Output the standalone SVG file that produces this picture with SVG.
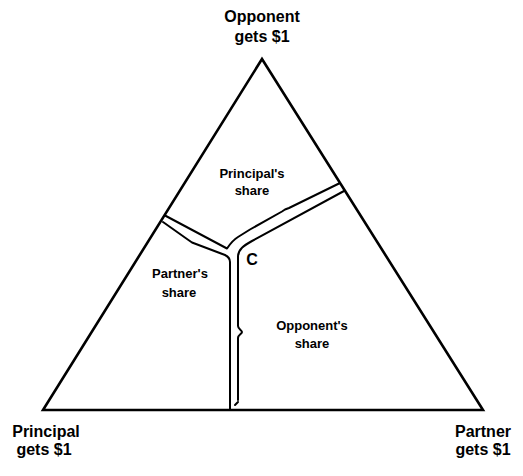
<svg xmlns="http://www.w3.org/2000/svg" width="523" height="476" viewBox="0 0 523 476">
<style>
.lbl{font-family:"Liberation Sans",Arial,Helvetica,sans-serif;font-weight:bold;fill:#000;text-anchor:middle}
.big{font-size:16px}
.mid{font-size:13px}
.edge{fill:none;stroke:#000;stroke-width:2.6;stroke-linejoin:miter}
.band{fill:none;stroke:#000;stroke-width:2;stroke-linecap:round;stroke-linejoin:round}
</style>
<rect width="523" height="476" fill="#fff"/>
<g id="triangle">
<polygon class="edge" points="262,59 43,410 483,410"/>
</g>
<g id="connectors">
<path class="band" d="M165,215.5 L227,248.5 C230,244 233,240 238,237 L250,229.5 L282,211.5 L285,209.5 L289,208 L340,183"/>
<path class="band" d="M163,222 L187,239 L192,242.5 L225,255 C228,256.5 230,258 230,262 L230,409"/>
<path class="band" d="M344,191 L252,241 C244,245.5 238,249 238,257 L238,326 C238,329 242,330 242,332 C242,334 238,335 238,338 L238,400"/>
<path class="band" d="M238,402 L235,405"/>
</g>
<g id="opponent-vertex">
<text class="lbl big" x="262" y="22">Opponent</text>
<text class="lbl big" x="262" y="42">gets $1</text>
</g>
<g id="principal-vertex">
<text class="lbl big" x="46" y="437">Principal</text>
<text class="lbl big" x="44" y="455">gets $1</text>
</g>
<g id="partner-vertex">
<text class="lbl big" x="483" y="437">Partner</text>
<text class="lbl big" x="483" y="455">gets $1</text>
</g>
<g id="principal-share">
<text class="lbl mid" x="252" y="178">Principal's</text>
<text class="lbl mid" x="252" y="195">share</text>
</g>
<g id="partner-share">
<text class="lbl mid" x="180" y="278">Partner's</text>
<text class="lbl mid" x="179" y="297">share</text>
</g>
<g id="opponent-share">
<text class="lbl mid" x="312" y="330">Opponent's</text>
<text class="lbl mid" x="312" y="348">share</text>
</g>
<g id="point-c">
<text class="lbl big" x="252" y="265">C</text>
</g>
</svg>
